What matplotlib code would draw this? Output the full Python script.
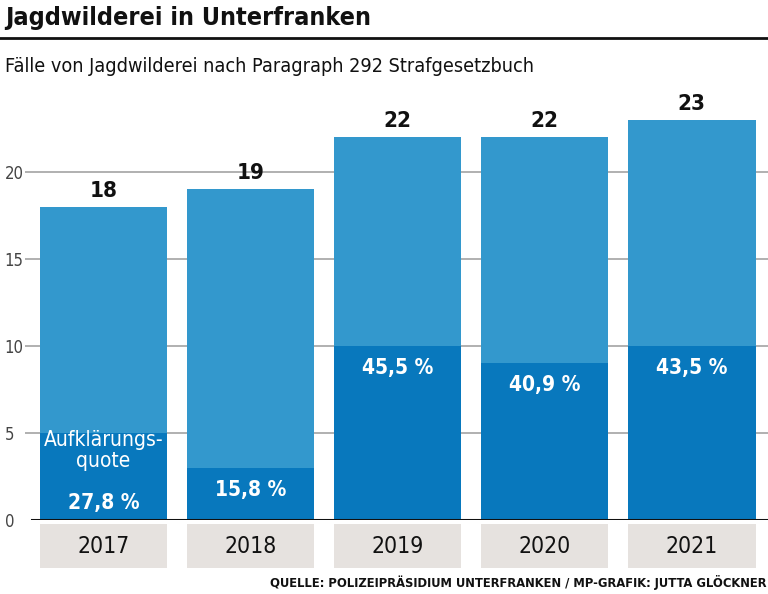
import matplotlib.pyplot as plt
from matplotlib.lines import Line2D

plt.rcParams['font.family'] = ['DejaVu Sans']
plt.rcParams['font.stretch'] = 'condensed'

# Data
years = ['2017', '2018', '2019', '2020', '2021']
cases = [18, 19, 22, 22, 23]
solved = [5, 3, 10, 9, 10]
quote_labels = ['27,8 %', '15,8 %', '45,5 %', '40,9 %', '43,5 %']

light_blue = '#3398cd'
dark_blue = '#0878bd'
box_grey = '#e6e2df'

fig = plt.figure(figsize=(7.68, 5.94), dpi=100)
ax = fig.add_axes([25 / 768, 1 - 520 / 594, 743 / 768, 435 / 594])

x = list(range(len(years)))
ax.set_xlim(-0.534, 4.52)
ax.set_ylim(0, 25)

# gridlines
for yv in [5, 10, 15, 20]:
    ax.axhline(yv, color='#aaaaaa', lw=1.3, zorder=0)

ax.bar(x, cases, width=0.87, color=light_blue, zorder=2)
ax.bar(x, solved, width=0.87, color=dark_blue, zorder=3)

# year boxes below baseline
ax.bar(x, -2.5, bottom=-0.25, width=0.87, color=box_grey, clip_on=False, zorder=1)
for i, yr in enumerate(years):
    ax.text(i, -1.5, yr, ha='center', va='center', fontsize=16.5, color='#111111', clip_on=False)

ax.axhline(0, color='#111111', lw=2.2, zorder=4, xmin=0.01)

# value labels
for i, v in enumerate(cases):
    ax.text(i, v + 0.35, str(v), ha='center', va='bottom', fontsize=16, fontweight='bold', color='#111111')

for i, (s, lab) in enumerate(zip(solved, quote_labels)):
    if i == 0:
        ax.text(i, s - 1.0, 'Aufklärungs-\nquote', ha='center', va='center', fontsize=15,
                color='white', linespacing=1.05, zorder=5)
        ax.text(i, s - 4.0, lab, ha='center', va='center', fontsize=15, fontweight='bold',
                color='white', zorder=5)
    else:
        ax.text(i, s - 1.25, lab, ha='center', va='center', fontsize=15, fontweight='bold',
                color='white', zorder=5)

for sp in ax.spines.values():
    sp.set_visible(False)
ax.set_xticks([])
ax.set_yticks([0, 5, 10, 15, 20])
ax.set_yticklabels(['0', '5', '10', '15', '20'], fontsize=12, color='#444444')
ax.tick_params(axis='y', length=0, pad=4)
for lbl in ax.get_yticklabels():
    lbl.set_horizontalalignment('left')
    lbl.set_x(-0.02)

# titles
fig.text(5 / 768, 1 - 18 / 594, 'Jagdwilderei in Unterfranken', fontsize=18, fontweight='bold',
         va='center', ha='left', color='#111111')
fig.add_artist(Line2D([0, 1], [1 - 38 / 594, 1 - 38 / 594], color='#111111', lw=2))
fig.text(5 / 768, 1 - 66 / 594, 'Fälle von Jagdwilderei nach Paragraph 292 Strafgesetzbuch',
         fontsize=14.2, va='center', ha='left', color='#111111')
fig.text(766 / 768, 1 - 582 / 594, 'QUELLE: POLIZEIPRÄSIDIUM UNTERFRANKEN / MP-GRAFIK: JUTTA GLÖCKNER',
         fontsize=9.3, fontweight='bold', va='center', ha='right', color='#111111')

fig.savefig('out.png', dpi=100)
